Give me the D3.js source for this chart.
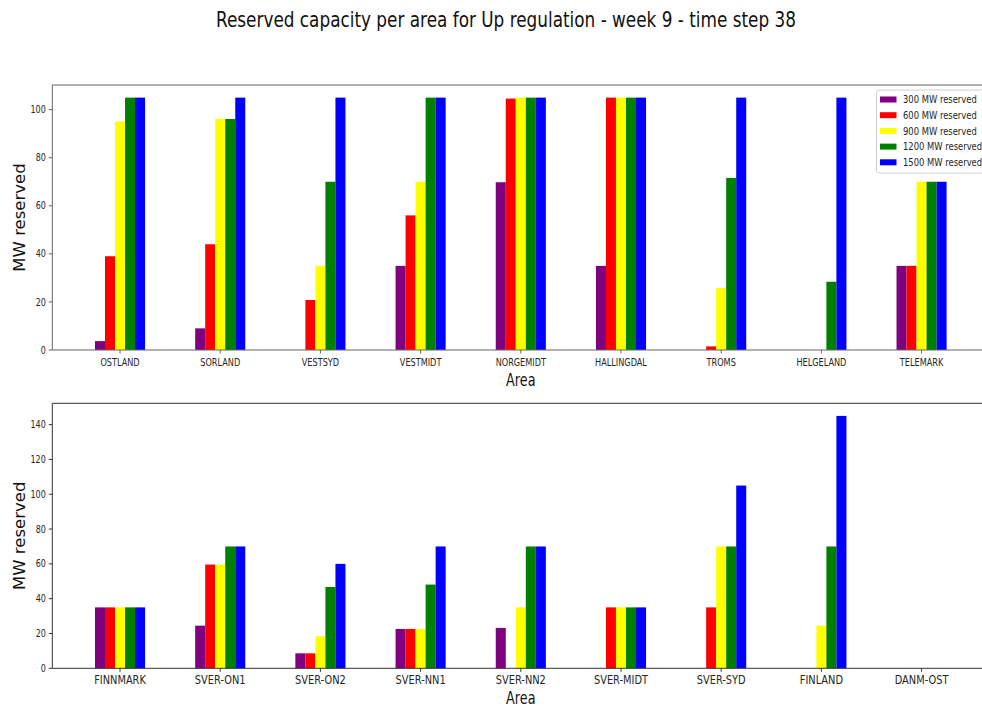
<!DOCTYPE html>
<html>
<head>
<meta charset="utf-8">
<script src="https://cdn.jsdelivr.net/npm/d3@7"></script>
<style>
  html, body { margin: 0; padding: 0; background: #fff; }
  svg { display: block; font-family: "DejaVu Sans", sans-serif; }
</style>
</head>
<body>
<svg id="chart" width="982" height="709"></svg>
<script>
// Reserved capacity (MW) per area, one array per reserve level
const seriesNames = ["300 MW reserved", "600 MW reserved", "900 MW reserved", "1200 MW reserved", "1500 MW reserved"];
const seriesColors = ["purple", "red", "yellow", "green", "blue"];

const areasTop = ["OSTLAND", "SORLAND", "VESTSYD", "VESTMIDT", "NORGEMIDT", "HALLINGDAL", "TROMS", "HELGELAND", "TELEMARK"];
const top300  = [3.7, 9.0, 0, 35, 69.8, 35, 0, 0, 35];
const top600  = [39.0, 44.0, 20.8, 56.0, 104.6, 105, 1.5, 0, 35];
const top900  = [95.1, 96.1, 35, 70, 105, 105, 25.8, 0, 70];
const top1200 = [105, 96.1, 70, 105, 105, 105, 71.6, 28.4, 70];
const top1500 = [105, 105, 105, 105, 105, 105, 105, 105, 70];

const areasBottom = ["FINNMARK", "SVER-ON1", "SVER-ON2", "SVER-NN1", "SVER-NN2", "SVER-MIDT", "SVER-SYD", "FINLAND", "DANM-OST"];
const bot300  = [35, 24.5, 8.6, 22.6, 23.2, 0, 0, 0, 0];
const bot600  = [35, 59.6, 8.6, 22.6, 0, 35, 35, 0, 0];
const bot900  = [35, 59.6, 18.4, 22.6, 35, 35, 70, 24.5, 0];
const bot1200 = [35, 70, 46.7, 48.1, 70, 35, 70, 70, 0];
const bot1500 = [35, 70, 60, 70, 70, 35, 105, 145, 0];

const yTicksTop = [0, 20, 40, 60, 80, 100];
const yTicksBottom = [0, 20, 40, 60, 80, 100, 120, 140];

const titleText = "Reserved capacity per area for Up regulation - week 9 - time step 38";

const svg = d3.select("#chart");
const SQ = 0.8;           // horizontal compression of the condensed lettering
const textColor = "#262626";

// title
svg.append("text")
  .attr("x", 216).attr("y", 26.5)
  .attr("font-size", 22)
  .attr("fill", "#111")
  .attr("textLength", 580)
  .attr("lengthAdjust", "spacingAndGlyphs")
  .text(titleText);

function squeezedText(g, x, y, txt, size, anchor, sq = SQ) {
  return g.append("text")
    .attr("transform", `translate(${x},${y}) scale(${sq},1)`)
    .attr("text-anchor", anchor)
    .attr("font-size", size)
    .attr("fill", textColor)
    .text(txt);
}

function drawPanel(opts) {
  const { areas, series, yTicks, top, bottom, left, right, xFont, spineColor, legend } = opts;
  const g = svg.append("g");

  const x = d3.scaleLinear().domain([-0.676, areas.length - 1 + 0.676]).range([left, right]);
  const yMax = d3.max(series.flat()) * 1.05;
  const y = d3.scaleLinear().domain([0, yMax]).range([bottom, top]);

  const barW = 0.1;
  series.forEach((vals, s) => {
    g.append("g").selectAll("rect")
      .data(vals)
      .join("rect")
      .attr("x", (d, i) => x(i - 0.25 + s * barW))
      .attr("width", x(barW) - x(0))
      .attr("y", d => y(d))
      .attr("height", d => y(0) - y(d))
      .attr("fill", seriesColors[s]);
  });

  // spines (left, top, bottom)
  g.append("line").attr("x1", left).attr("x2", left).attr("y1", top).attr("y2", bottom)
    .attr("stroke", spineColor).attr("stroke-width", 1);
  g.append("line").attr("x1", left).attr("x2", right).attr("y1", top).attr("y2", top)
    .attr("stroke", spineColor).attr("stroke-width", 1);
  g.append("line").attr("x1", left).attr("x2", right).attr("y1", bottom).attr("y2", bottom)
    .attr("stroke", spineColor).attr("stroke-width", 1);

  // y ticks
  yTicks.forEach(t => {
    const yy = y(t);
    g.append("line").attr("x1", left - 3.5).attr("x2", left).attr("y1", yy).attr("y2", yy)
      .attr("stroke", spineColor);
    squeezedText(g, left - 6.5, yy + 3.6, String(t), 10, "end");
  });

  // x ticks
  areas.forEach((a, i) => {
    const xx = x(i);
    g.append("line").attr("x1", xx).attr("x2", xx).attr("y1", bottom).attr("y2", bottom + 3.5)
      .attr("stroke", spineColor);
    squeezedText(g, xx, bottom + 16, a, xFont, "middle");
  });

  // axis titles
  squeezedText(g, (left + right) / 2, bottom + 35.5, "Area", 18, "middle", 0.71).attr("fill", "#111");
  g.append("text")
    .attr("transform", `translate(25,${(top + bottom) / 2}) rotate(-90)`)
    .attr("text-anchor", "middle")
    .attr("font-size", 16.5)
    .attr("fill", "#111")
    .text("MW reserved");

  if (legend) {
    const lg = g.append("g");
    lg.append("rect")
      .attr("x", 876.5).attr("y", 90).attr("width", 110).attr("height", 83)
      .attr("rx", 2.5)
      .attr("fill", "white").attr("fill-opacity", 0.85)
      .attr("stroke", "#d0d0d0");
    seriesNames.forEach((name, s) => {
      const cy = 99.5 + s * 15.7;
      lg.append("rect").attr("x", 880).attr("y", cy - 3).attr("width", 16.5).attr("height", 6)
        .attr("fill", seriesColors[s]);
      squeezedText(lg, 903, cy + 3.8, name, 10.5, "start");
    });
  }
}

drawPanel({
  areas: areasTop,
  series: [top300, top600, top900, top1200, top1500],
  yTicks: yTicksTop,
  top: 85, bottom: 350, left: 52.3, right: 989.3,
  xFont: 10.2, spineColor: "#666", legend: true
});

drawPanel({
  areas: areasBottom,
  series: [bot300, bot600, bot900, bot1200, bot1500],
  yTicks: yTicksBottom,
  top: 403.3, bottom: 668.3, left: 52.3, right: 989.3,
  xFont: 12.3, spineColor: "#333", legend: false
});
</script>
</body>
</html>
